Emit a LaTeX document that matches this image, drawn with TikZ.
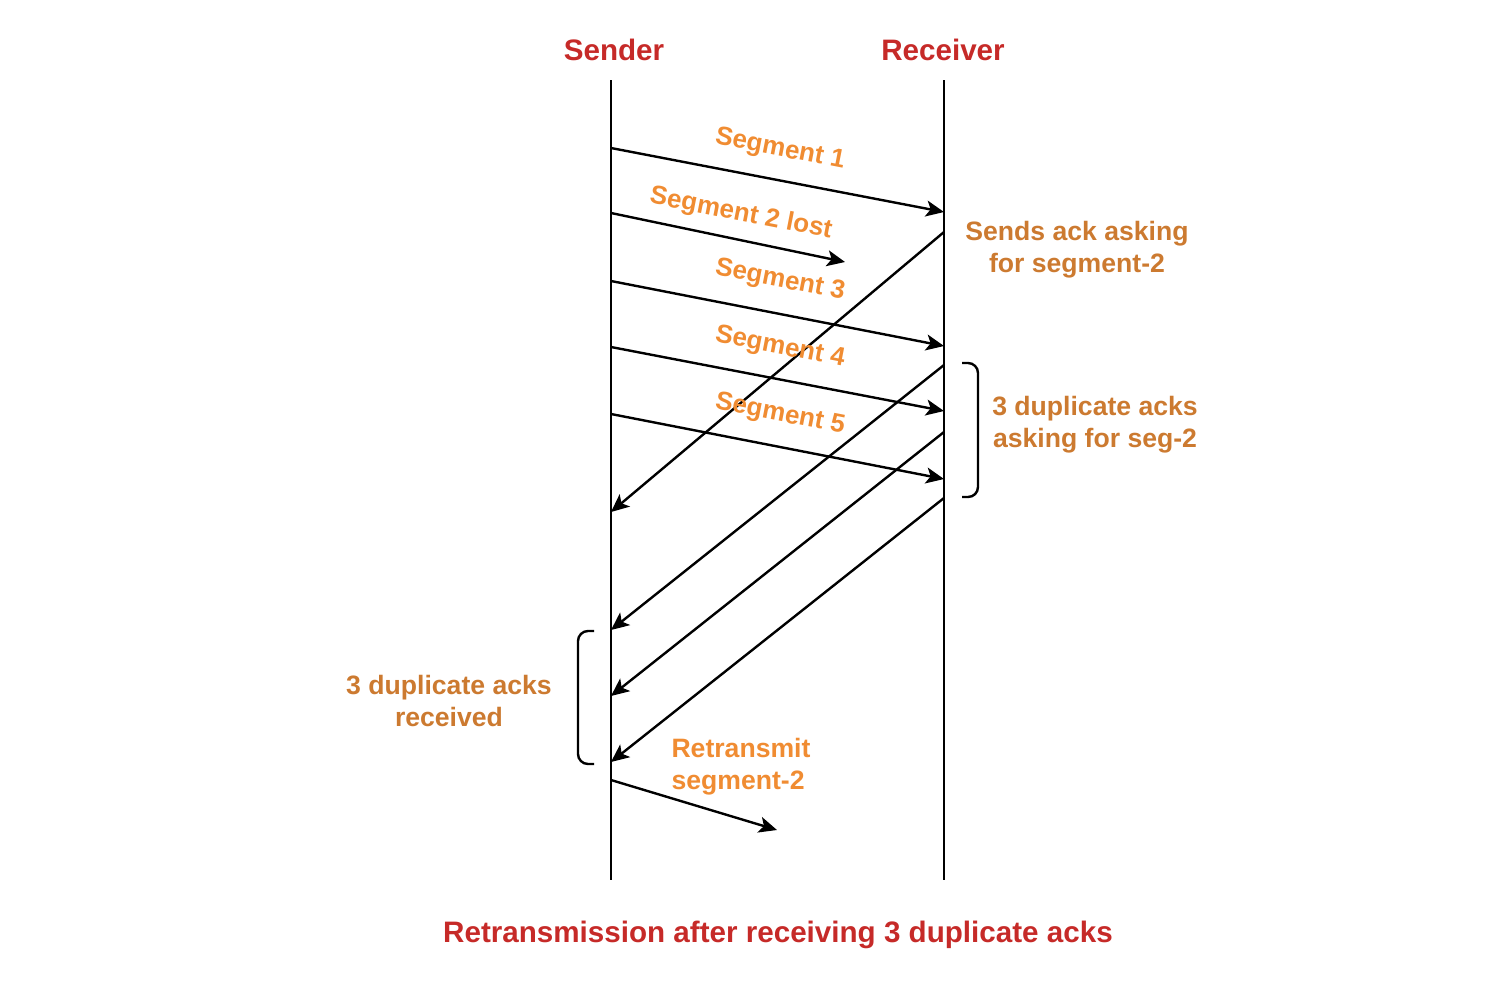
\documentclass[tikz,border=0pt]{standalone}
\usepackage{fontspec}
\setmainfont{Liberation Sans}
\usetikzlibrary{arrows.meta}
\definecolor{titlered}{HTML}{C62A28}
\definecolor{segorange}{HTML}{F08C32}
\definecolor{noteorange}{HTML}{CC7A30}
\tikzset{
  lifeline/.style={line width=1.2pt, black},
  msg/.style={line width=1.2pt, black, -{Stealth[length=9pt,width=8pt,inset=2.2pt]}},
  brack/.style={line width=1.2pt, black, rounded corners=5pt},
  head/.style={font=\bfseries\fontsize{14.8}{17}\selectfont, text=titlered},
  seglbl/.style={font=\bfseries\fontsize{13}{16}\selectfont, text=segorange, rotate=-11},
  note/.style={font=\bfseries\fontsize{13.3}{16}\selectfont, text=noteorange, align=center},
  retr/.style={font=\bfseries\fontsize{13.3}{16}\selectfont, text=segorange, align=left},
}
\begin{document}
\begin{tikzpicture}[x=0.5pt,y=-0.5pt]
\useasboundingbox (0,0) rectangle (1508,980);
% headers
\node[head] (sender) at (614,50) {Sender};
\node[head] (receiver) at (943,50) {Receiver};
% lifelines
\coordinate (s0) at (611,80); \coordinate (s1) at (611,880);
\coordinate (r0) at (944,80); \coordinate (r1) at (944,880);
\draw[lifeline] (s0) -- (s1);
\draw[lifeline] (r0) -- (r1);
% segment points
\coordinate (sa) at (611,148); \coordinate (ra) at (944,212);
\coordinate (sb) at (611,213); \coordinate (lost) at (845,262);
\coordinate (sc) at (611,281); \coordinate (rc) at (944,346);
\coordinate (sd) at (611,347); \coordinate (rd) at (944,411);
\coordinate (se) at (611,414); \coordinate (re) at (944,479);
\draw[msg] (sa) -- (ra);
\draw[msg] (sb) -- (lost);
\draw[msg] (sc) -- (rc);
\draw[msg] (sd) -- (rd);
\draw[msg] (se) -- (re);
% acks
\coordinate (k1r) at (944,232); \coordinate (k1s) at (611,512);
\coordinate (k2r) at (944,365); \coordinate (k2s) at (611,630);
\coordinate (k3r) at (944,432); \coordinate (k3s) at (611,696);
\coordinate (k4r) at (944,498); \coordinate (k4s) at (611,762);
\draw[msg] (k1r) -- (k1s);
\draw[msg] (k2r) -- (k2s);
\draw[msg] (k3r) -- (k3s);
\draw[msg] (k4r) -- (k4s);
% retransmit
\coordinate (rt0) at (611,780); \coordinate (rt1) at (777,830);
\draw[msg] (rt0) -- (rt1);
% segment labels
\node[seglbl] (l1) at (780,150) {Segment 1};
\node[seglbl] (l2) at (741,214) {Segment 2 lost};
\node[seglbl] (l3) at (780,281) {Segment 3};
\node[seglbl] (l4) at (780,348) {Segment 4};
\node[seglbl] (l5) at (780,415) {Segment 5};
% notes
\node[note] (n1) at (1077,250) {Sends ack asking\\ for segment-2};
\draw[brack] (962,363) -- (978,363) -- (978,497) -- (962,497);
\node[note] (n2) at (1095,425) {3 duplicate acks\\ asking for seg-2};
\draw[brack] (594,631) -- (578,631) -- (578,764) -- (594,764);
\node[note] (n3) at (449,701) {3 duplicate acks\\ received};
\node[retr] (n4) at (741,767) {Retransmit\\segment-2};
% title
\node[head] (title) at (778,935) {Retransmission after receiving 3 duplicate acks};
\end{tikzpicture}
\end{document}
